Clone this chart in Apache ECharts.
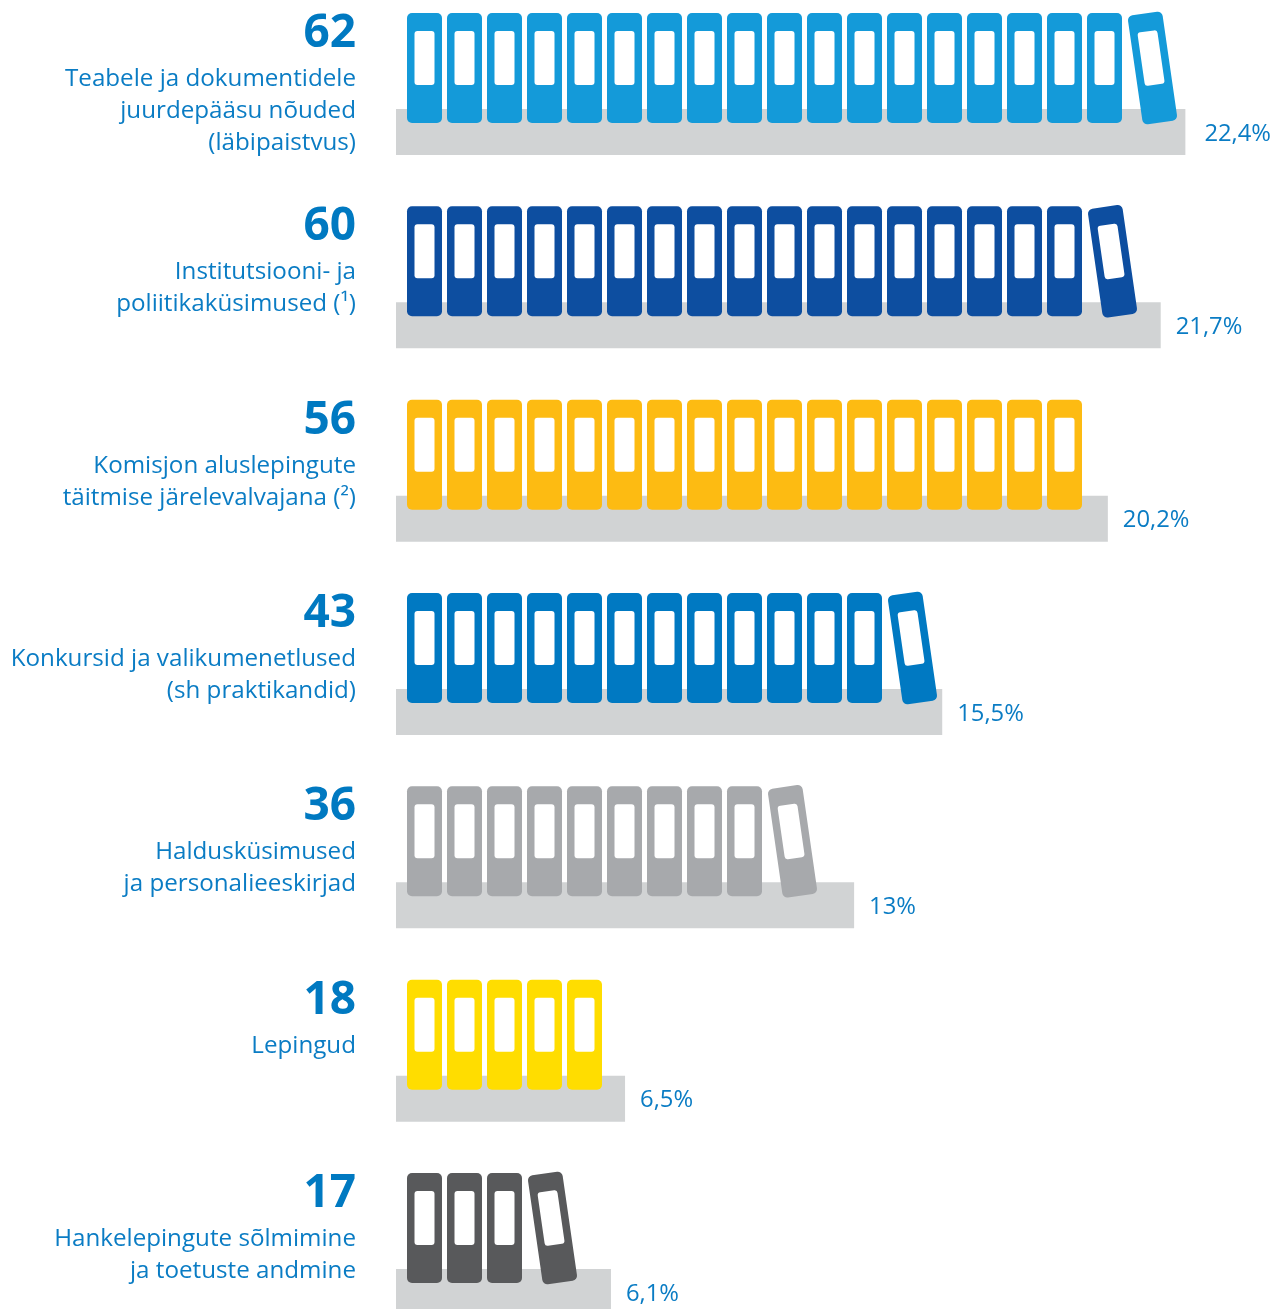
<!DOCTYPE html>
<html><head><meta charset="utf-8">
<style>html,body{margin:0;padding:0;background:#fff;overflow:hidden}#c{width:1282px;height:1309px}</style>
<script src="https://cdn.jsdelivr.net/npm/echarts@6/dist/echarts.min.js"></script>
</head><body><div id="c"></div>
<script>
const categories = [
  "Teabele ja dokumentidele\njuurdepääsu nõuded\n(läbipaistvus)",
  "Institutsiooni- ja\npoliitikaküsimused (¹)",
  "Komisjon aluslepingute\ntäitmise järelevalvajana (²)",
  "Konkursid ja valikumenetlused\n(sh praktikandid)",
  "Haldusküsimused\nja personalieeskirjad",
  "Lepingud",
  "Hankelepingute sõlmimine\nja toetuste andmine"
];
const requestCounts = [62, 60, 56, 43, 36, 18, 17];
const sharePercent = [22.4, 21.7, 20.2, 15.5, 13, 6.5, 6.1];
const uprightBinders = [18, 17, 17, 12, 9, 5, 3];
const leaningBinders = [1, 1, 0, 1, 1, 0, 1];
const binderColors = ["#149ad9", "#0d4ea0", "#fdbb12", "#0079c2", "#a7a9ac", "#ffdd00", "#58595b"];

const TEXT_BLUE = "#0a7cc4";
const FONT = '"Open Sans", sans-serif';
const binders = [];
uprightBinders.forEach((n, row) => {
  for (let i = 0; i < n; i++) binders.push([i, row, 0]);
  for (let j = 0; j < leaningBinders[row]; j++) binders.push([n + 0.2, row, 1]);
});

const GRID_LEFT = 396, GRID_W = 881, SLOT = 40, FIRST = 28.5;
const chart = echarts.init(document.getElementById("c"), null, {renderer: "canvas"});
chart.setOption({
  animation: false,
  backgroundColor: "#fff",
  grid: {left: GRID_LEFT, width: GRID_W, top: 35.33, height: 1353.33, containLabel: false, outerBoundsMode: "none"},
  xAxis: [
    {type: "value", min: 0, max: 25, show: false},
    {type: "value", min: -FIRST / SLOT, max: (GRID_W - FIRST) / SLOT, show: false}
  ],
  yAxis: {type: "category", inverse: true, data: categories, show: false},
  series: [
    {
      type: "bar", xAxisIndex: 0, barWidth: 46, z: 1,
      itemStyle: {color: "#d1d3d4"},
      label: {
        show: true, position: "right", distance: 15, color: TEXT_BLUE,
        fontFamily: FONT, fontSize: 23.8, offset: [0, 2],
        formatter: p => String(p.value).replace(".", ",") + "%"
      },
      data: sharePercent.map((v, i) => i === 0 ? {value: v, label: {distance: 19}} : v)
    },
    {
      type: "custom", xAxisIndex: 1, z: 3, clip: false,
      encode: {x: 0, y: 1},
      data: binders,
      renderItem(params, api) {
        const row = api.value(1), p = api.coord([api.value(0), row]);
        const fill = binderColors[row];
        const cx = p[0], cy = p[1] - 64;
        return {
          type: "group", x: cx, y: cy, rotation: api.value(2) ? 8.2 * Math.PI / 180 : 0,
          children: [
            {type: "rect", shape: {x: -17.5, y: -55, width: 35, height: 110, r: 5}, style: {fill}},
            {type: "rect", shape: {x: -10, y: -37, width: 20, height: 54, r: 3}, style: {fill: "#fff"}}
          ]
        };
      }
    },
    {
      type: "custom", xAxisIndex: 0, z: 4, clip: false,
      encode: {y: 1},
      data: categories.map((c, i) => [0, i]),
      renderItem(params, api) {
        const row = api.value(1), p = api.coord([0, row]);
        return {
          type: "group",
          children: [
            {type: "text", x: p[0] - 40, y: p[1] - 98,
              style: {text: String(requestCounts[row]), align: "right", verticalAlign: "middle",
                fill: "#0079c1", font: 'bold 46px ' + FONT}},
            {type: "text", x: p[0] - 40, y: p[1] - 69,
              style: {text: categories[row], align: "right", verticalAlign: "top", lineHeight: 32,
                fill: TEXT_BLUE, font: '24.2px ' + FONT}}
          ]
        };
      }
    }
  ]
});
</script></body></html>
